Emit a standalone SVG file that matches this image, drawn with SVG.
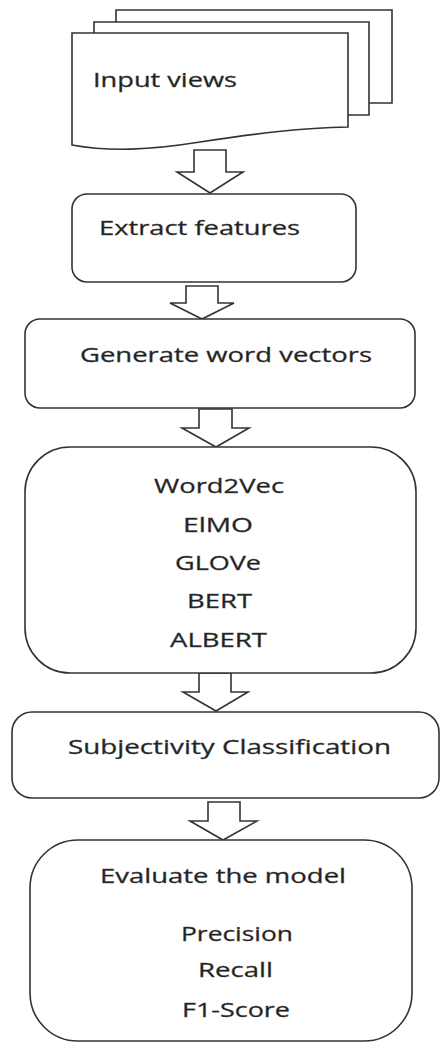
<svg xmlns="http://www.w3.org/2000/svg" width="441" height="1052" viewBox="0 0 441 1052">
<style>
.s{fill:#fff;stroke:#333;stroke-width:1.6;stroke-linejoin:miter}
.t{font-family:"Open Sans","DejaVu Sans",sans-serif;font-size:20.5px;fill:#1e1e1e;stroke:#444;stroke-width:0.35}
</style>
<rect width="441" height="1052" fill="#fff"/>
<g id="input-views">
<path class="s" d="M116,22 V10 H392 V103 H369"/>
<path class="s" d="M94,33 V22 H369 V115 H348"/>
<path class="s" d="M72,33 H348 V127 C300,128 260,133 200,142 C150,150 110,152 72,145 Z"/>
<text class="t" x="93" y="87" textLength="144" lengthAdjust="spacingAndGlyphs">Input views</text>
</g>
<g id="connectors">
<polygon class="s" points="194,150 226,150 226,172 243,172 210,193 177,172 194,172"/>
<polygon class="s" points="186,286 218,286 218,303 234,303 202,319 170,303 186,303"/>
<polygon class="s" points="199,409 232,409 232,428 249,428 216,447 182,428 199,428"/>
<polygon class="s" points="199,673 231,673 231,692 248,692 216,711 183,692 199,692"/>
<polygon class="s" points="208,802 240,802 240,821 257,821 223,840 190,821 208,821"/>
</g>
<g id="extract-features">
<rect class="s" x="72" y="194" width="284" height="88" rx="15"/>
<text class="t" x="99" y="235" textLength="201" lengthAdjust="spacingAndGlyphs">Extract features</text>
</g>
<g id="generate-word-vectors">
<rect class="s" x="25" y="319" width="390" height="89" rx="15"/>
<text class="t" x="80" y="362" textLength="292" lengthAdjust="spacingAndGlyphs">Generate word vectors</text>
</g>
<g id="embeddings">
<rect class="s" x="25" y="447" width="391" height="226" rx="45"/>
<text class="t" x="154" y="493" textLength="130" lengthAdjust="spacingAndGlyphs">Word2Vec</text>
<text class="t" x="183" y="532" textLength="70" lengthAdjust="spacingAndGlyphs">ElMO</text>
<text class="t" x="175" y="570" textLength="86" lengthAdjust="spacingAndGlyphs">GLOVe</text>
<text class="t" x="187" y="608" textLength="65" lengthAdjust="spacingAndGlyphs">BERT</text>
<text class="t" x="170" y="647" textLength="97" lengthAdjust="spacingAndGlyphs">ALBERT</text>
</g>
<g id="subjectivity-classification">
<rect class="s" x="12" y="712" width="427" height="86" rx="20"/>
<text class="t" x="68" y="754" textLength="323" lengthAdjust="spacingAndGlyphs">Subjectivity  Classification</text>
</g>
<g id="evaluate">
<rect class="s" x="30" y="840" width="382" height="201" rx="48"/>
<text class="t" x="100" y="883" textLength="246" lengthAdjust="spacingAndGlyphs">Evaluate the model</text>
<text class="t" x="181" y="941" textLength="112" lengthAdjust="spacingAndGlyphs">Precision</text>
<text class="t" x="198" y="977" textLength="75" lengthAdjust="spacingAndGlyphs">Recall</text>
<text class="t" x="182" y="1017" textLength="108" lengthAdjust="spacingAndGlyphs">F1-Score</text>
</g>
</svg>
